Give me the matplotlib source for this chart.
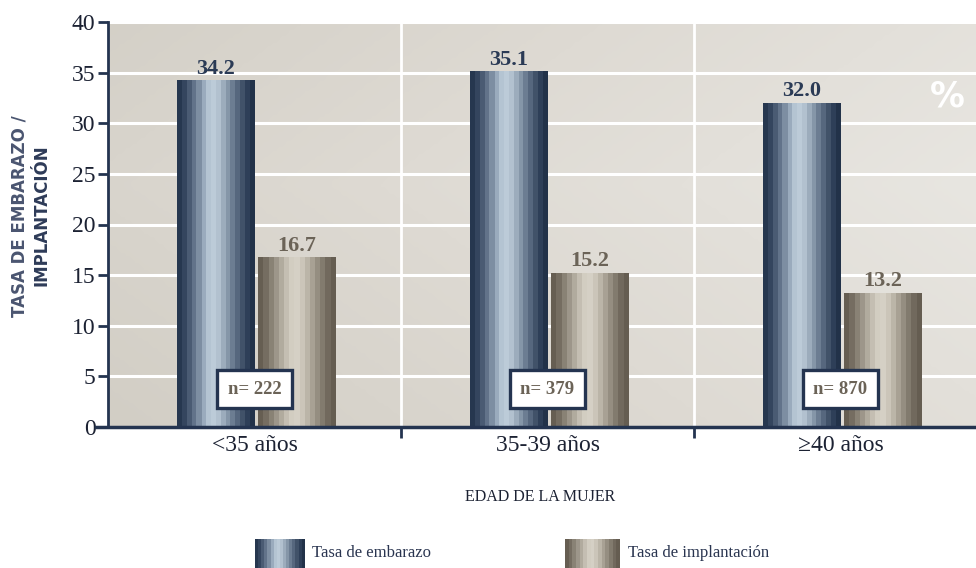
import numpy as np
import matplotlib
matplotlib.use("Agg")
import matplotlib.pyplot as plt
from matplotlib.colors import ListedColormap, LinearSegmentedColormap

# Data
categories = ["<35 años", "35-39 años", "\u226540 años"]
tasa_embarazo = [34.2, 35.1, 32.0]
tasa_implantacion = [16.7, 15.2, 13.2]
n_pacientes = [222, 379, 870]
series_names = ["Tasa de embarazo", "Tasa de implantación"]
y_ticks = [0, 5, 10, 15, 20, 25, 30, 35, 40]

# Striped fills for the cylinders
blue_stripes = ["#26374f", "#34455e", "#4a5b73", "#62738a", "#7d8ea2", "#9aabbd",
                "#b4c4d2", "#bccbd8", "#b2c1cf", "#9cacbc", "#8596a8", "#6c7d92",
                "#56677e", "#415269", "#2e3f58", "#223249"]
gray_stripes = ["#665e52", "#756d61", "#898275", "#9d968a", "#b1ab9e", "#c4beb2",
                "#d2cdc1", "#d5d0c5", "#cbc5b9", "#bbb5a8", "#a8a194", "#958e81",
                "#827b6e", "#71695d", "#655d51"]
blue_cmap = ListedColormap(blue_stripes)
gray_cmap = ListedColormap(gray_stripes)

navy = "#243450"
taupe = "#6b6357"
serif = ["Liberation Serif", "DejaVu Serif"]

fig = plt.figure(figsize=(9.76, 5.68), dpi=100)
ax = fig.add_axes([108 / 976, 141 / 568, 879 / 976, 405 / 568])
ax.set_xlim(0, 3)
ax.set_ylim(0, 40)

# Background shading of the plotting area
gx = np.linspace(0, 1, 300)
gy = np.linspace(0, 1, 120)
GX, GY = np.meshgrid(gx, gy)
shade = np.clip(0.55 * GX + 0.35 * (1 - np.abs(GY - 0.6)) + 0.1, 0, 1)
bg_cmap = LinearSegmentedColormap.from_list(
    "bg", ["#d2cec5", "#dedad3", "#e8e6e1"])
ax.imshow(shade, extent=(0, 3, 0, 40), aspect="auto", cmap=bg_cmap,
          origin="lower", zorder=0, interpolation="bilinear")

# Grid
for y in y_ticks[1:]:
    ax.axhline(y, color="white", lw=2.2, zorder=1)
for x in [1, 2]:
    ax.axvline(x, color="white", lw=2.0, zorder=1)

centers = np.arange(len(categories)) + 0.5
bw = 0.266
gap = 0.012

bars_a = ax.bar(centers - bw / 2, tasa_embarazo, width=bw, color="none",
                zorder=2)
bars_b = ax.bar(centers + gap + bw / 2, tasa_implantacion, width=bw,
                color="none", zorder=2)


def fill_stripes(bars, cmap):
    for b in bars:
        x0, y0 = b.get_x(), b.get_y()
        w, h = b.get_width(), b.get_height()
        grad = np.linspace(0, 1, 200).reshape(1, -1)
        ax.imshow(grad, extent=(x0, x0 + w, y0, y0 + h), aspect="auto",
                  cmap=cmap, zorder=3, interpolation="nearest")


fill_stripes(bars_a, blue_cmap)
fill_stripes(bars_b, gray_cmap)

for b, v in zip(bars_a, tasa_embarazo):
    ax.text(b.get_x() + b.get_width() / 2, v + 0.7, f"{v:.1f}",
            ha="center", va="baseline", fontsize=16, fontweight="bold",
            color="#2a3a55", family=serif, zorder=5)
for b, v in zip(bars_b, tasa_implantacion):
    ax.text(b.get_x() + b.get_width() / 2, v + 0.7, f"{v:.1f}",
            ha="center", va="baseline", fontsize=16, fontweight="bold",
            color=taupe, family=serif, zorder=5)

# Sample size boxes
for c, n in zip(centers, n_pacientes):
    ax.text(c, 3.75, f"n= {n}", ha="center", va="center", fontsize=13.5,
            fontweight="bold", color=taupe, family=serif, zorder=6,
            bbox=dict(boxstyle="square,pad=0.55", fc="white", ec=navy, lw=2.4))

# Percent sign
ax.text(2.863, 32.6, "%", ha="center", va="center", fontsize=25,
        fontweight="bold", color="white", family="DejaVu Sans", zorder=4)

# Axes styling
for s in ["top", "right"]:
    ax.spines[s].set_visible(False)
ax.spines["left"].set_color(navy)
ax.spines["left"].set_linewidth(2)
ax.spines["bottom"].set_color(navy)
ax.spines["bottom"].set_linewidth(2.5)
ax.spines["bottom"].set_bounds(-0.04, 3)
ax.spines["left"].set_zorder(7)
ax.spines["bottom"].set_zorder(7)

ax.set_yticks(y_ticks)
ax.set_yticklabels([str(t) for t in y_ticks], family=serif, fontsize=17,
                   color="#1c2233")
ax.tick_params(axis="y", direction="out", length=7, width=2, color=navy, pad=2)

ax.set_xticks(centers)
ax.set_xticklabels(categories, family=serif, fontsize=17, color="#1c2233")
ax.tick_params(axis="x", which="major", length=0, pad=6)
ax.set_xticks([1, 2], minor=True)
ax.tick_params(axis="x", which="minor", direction="out", length=8, width=2,
               color=navy)

fig.text(20 / 976, (568 - 216) / 568, "TASA DE EMBARAZO /", rotation=90,
         ha="center", va="center", fontsize=12, fontweight="bold",
         color="#4a5570", family="DejaVu Sans")
fig.text(42 / 976, (568 - 215) / 568, "IMPLANTACIÓN", rotation=90,
         ha="center", va="center", fontsize=12, fontweight="bold",
         color="#2e3b58", family="DejaVu Sans")

fig.text(540 / 976, (568 - 497) / 568, "EDAD DE LA MUJER", ha="center",
         va="center", fontsize=11.5, color="#1c2233", family=serif)


# Legend
def legend_item(x0, x1, cmap, label, tx):
    lax = fig.add_axes([x0 / 976, (568 - 569) / 568, (x1 - x0) / 976,
                        30 / 568])
    lax.imshow(np.linspace(0, 1, 200).reshape(1, -1), aspect="auto",
               cmap=cmap, interpolation="nearest")
    lax.axis("off")
    fig.text(tx / 976, (568 - 553) / 568, label, ha="left", va="center",
             fontsize=12, color="#2a3550", family=serif)


legend_item(255, 305, blue_cmap, series_names[0], 312)
legend_item(565, 620, gray_cmap, series_names[1], 628)

fig.savefig("out.png", dpi=100)
